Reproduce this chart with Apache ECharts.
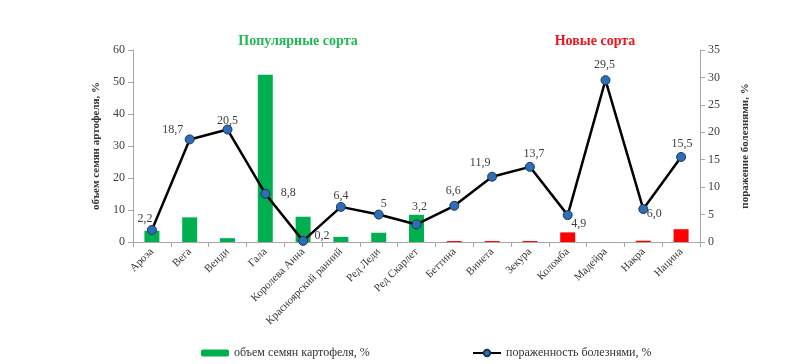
<!DOCTYPE html>
<html><head><meta charset="utf-8">
<script src="https://cdn.jsdelivr.net/npm/echarts@6/dist/echarts.min.js"></script>
<style>html,body{margin:0;padding:0;background:#fff}#c{width:800px;height:364px}</style>
</head><body><div id="c"></div>
<script>
const categories = ['Ароза','Вега','Венди','Гала','Королева Анна','Красноярский ранний','Ред Леди','Ред Скарлет','Беттина','Винета','Зекура','Коломба','Мадейра','Накра','Нацина'];
const seedVolume = [3.5, 7.7, 1.2, 52.3, 7.9, 1.6, 2.9, 8.5, 0.3, 0.3, 0.3, 3.0, 0, 0.4, 4.0];
const diseaseRate = [2.2, 18.7, 20.5, 8.8, 0.2, 6.4, 5, 3.2, 6.6, 11.9, 13.7, 4.9, 29.5, 6.0, 15.5];
const diseaseLabels = ['2,2','18,7','20,5','8,8','0,2','6,4','5','3,2','6,6','11,9','13,7','4,9','29,5','6,0','15,5'];
const popularCount = 8;
const leftTicks = [0, 60, 10];
const rightTicks = [0, 35, 5];

const green = '#00B050', red = '#FF0000';
const font = '"Liberation Serif", "Times New Roman", serif';
const labelOffsets = [[-7,0],[-17,1],[0,2],[23,10],[19,6],[0,0],[5,0],[3,-7],[-1,-4],[-12,-3],[4,-2],[11,20],[-1,-4],[11,16],[1,-2]];

const chart = echarts.init(document.getElementById('c'), null, {renderer:'canvas'});
chart.setOption({
  animation:false,
  textStyle:{fontFamily:font},
  title:[
    {text:'Популярные сорта', left:293, top:29, textAlign:'center', textStyle:{fontFamily:font, fontSize:14, fontWeight:'bold', color:'#1DB954'}},
    {text:'Новые сорта', left:590, top:29, textAlign:'center', textStyle:{fontFamily:font, fontSize:14, fontWeight:'bold', color:'#F0141E'}}
  ],
  legend:[
    {data:['объем семян картофеля, %'], left:196, top:342, itemWidth:28, itemHeight:7, itemGap:4, textStyle:{fontFamily:font, fontSize:12, color:'#333'}},
    {data:['пораженность болезнями, %'], left:467, top:342, itemWidth:28, itemHeight:8, textStyle:{fontFamily:font, fontSize:12, color:'#333'}}
  ],
  grid:{left:133, right:100, top:50, bottom:122},
  xAxis:{type:'category', data:categories,
    axisLine:{lineStyle:{color:'#A6A6A6'}},
    axisTick:{show:true, alignWithLabel:false, length:5, lineStyle:{color:'#A6A6A6'}},
    axisLabel:{rotate:45, interval:0, fontFamily:font, fontSize:11, color:'#333', margin:8}},
  yAxis:[
    {type:'value', min:leftTicks[0], max:leftTicks[1], interval:leftTicks[2],
     name:'объем семян артофеля, %', nameLocation:'middle', nameRotate:90, nameGap:25,
     nameTextStyle:{fontFamily:font, fontSize:11, fontWeight:'bold', color:'#333'},
     axisLine:{show:true, lineStyle:{color:'#A6A6A6'}}, axisTick:{show:true, length:5, lineStyle:{color:'#A6A6A6'}},
     splitLine:{show:false}, axisLabel:{fontFamily:font, fontSize:12, color:'#404040', margin:8}},
    {type:'value', min:rightTicks[0], max:rightTicks[1], interval:rightTicks[2], position:'right',
     name:'поражение болезнями, %', nameLocation:'middle', nameRotate:90, nameGap:40,
     nameTextStyle:{fontFamily:font, fontSize:11, fontWeight:'bold', color:'#333'},
     axisLine:{show:true, lineStyle:{color:'#A6A6A6'}}, axisTick:{show:true, length:5, lineStyle:{color:'#A6A6A6'}},
     splitLine:{show:false}, axisLabel:{fontFamily:font, fontSize:12, color:'#404040', margin:8}}
  ],
  series:[
    {name:'объем семян картофеля, %', type:'bar', yAxisIndex:0, barWidth:15,
     data:seedVolume.map((v,i)=>({value:v, itemStyle:{color: i<popularCount ? green : red}})),
     itemStyle:{color:green}},
    {name:'пораженность болезнями, %', type:'line', yAxisIndex:1, z:5,
     symbol:'circle', symbolSize:9,
     lineStyle:{color:'#000', width:2.5},
     itemStyle:{color:'#2F6EB5', borderColor:'#16365C', borderWidth:1},
     data:diseaseRate.map((v,i)=>({value:v,
       label:{show:true, position:'top', distance:0, offset:labelOffsets[i], formatter:diseaseLabels[i],
         fontFamily:font, fontSize:12, color:'#404040'}}))}
  ]
});
</script></body></html>
